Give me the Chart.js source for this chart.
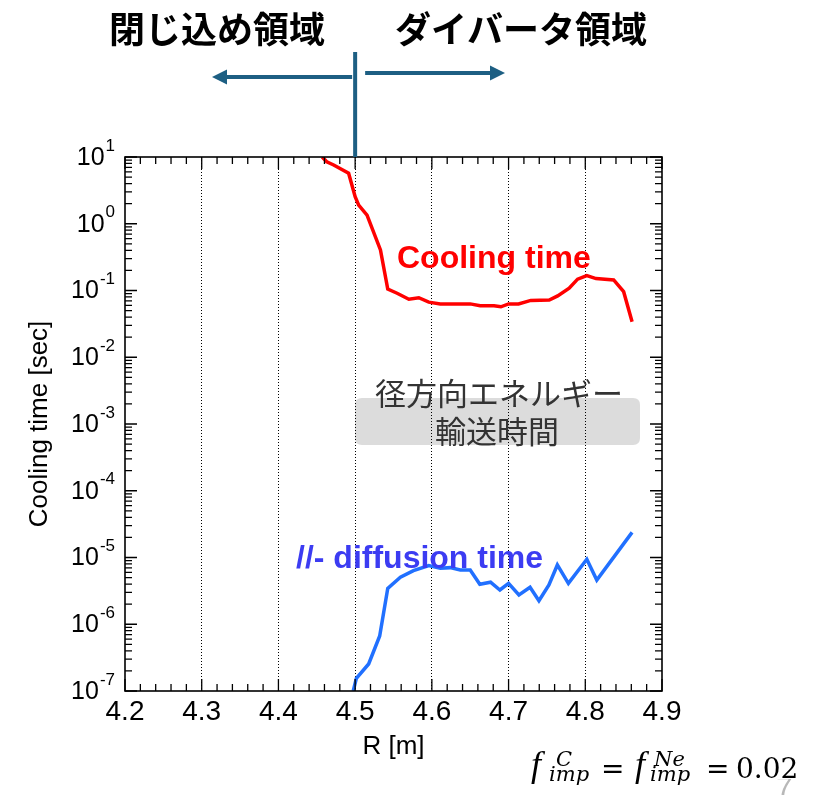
<!DOCTYPE html>
<html><head><meta charset="utf-8">
<script src="https://cdn.jsdelivr.net/npm/chart.js@4.4.1/dist/chart.umd.min.js"></script>
<style>html,body{margin:0;padding:0;background:#fff;}canvas{display:block;}</style>
</head><body>
<canvas id="c" width="820" height="795"></canvas>
<script>
// ---- data ----
const xTickValues = [4.2, 4.3, 4.4, 4.5, 4.6, 4.7, 4.8, 4.9];
const xTickLabels = ['4.2', '4.3', '4.4', '4.5', '4.6', '4.7', '4.8', '4.9'];
const yDecadeExponents = [1, 0, -1, -2, -3, -4, -5, -6, -7];

const rCooling = [4.457, 4.463, 4.472, 4.4915, 4.500, 4.5046, 4.5155, 4.533, 4.5425, 4.5547, 4.570, 4.583, 4.596, 4.611, 4.650, 4.663, 4.681, 4.690, 4.700, 4.713, 4.729, 4.753, 4.764, 4.779, 4.790, 4.802, 4.814, 4.837, 4.850, 4.861];
const coolingTime = [10, 8.5, 7.6, 5.7, 2.54, 1.9, 1.35, 0.405, 0.105, 0.091, 0.074, 0.078, 0.067, 0.063, 0.063, 0.059, 0.059, 0.057, 0.063, 0.063, 0.071, 0.072, 0.083, 0.108, 0.148, 0.167, 0.151, 0.144, 0.096, 0.034];

const rDiffusion = [4.4975, 4.5016, 4.5176, 4.532, 4.5425, 4.559, 4.576, 4.596, 4.611, 4.624, 4.637, 4.650, 4.6625, 4.6765, 4.6887, 4.700, 4.7135, 4.728, 4.7396, 4.7526, 4.7636, 4.778, 4.802, 4.815, 4.861];
const diffusionTime = [1.0e-7, 1.55e-7, 2.54e-7, 6.67e-7, 3.45e-6, 5.05e-6, 6.34e-6, 7.55e-6, 6.89e-6, 7.05e-6, 6.5e-6, 6.5e-6, 3.98e-6, 4.27e-6, 3.26e-6, 4.1e-6, 2.75e-6, 3.58e-6, 2.25e-6, 3.87e-6, 7.73e-6, 4.1e-6, 9.4e-6, 4.6e-6, 2.38e-5];

const boundaryR = 4.5;
const regionTitles = ['閉じ込め領域', 'ダイバータ領域'];
const curveLabels = ['Cooling time', '//- diffusion time'];
const boxLines = ['径方向エネルギー', '輸送時間'];

const SANS = '"Liberation Sans", Arial, sans-serif';
const CJK = '"Noto Sans CJK JP", sans-serif';
const TEAL = '#1d5f83';

function roundRect(ctx, x, y, w, h, r) {
  ctx.beginPath();
  ctx.moveTo(x + r, y);
  ctx.lineTo(x + w - r, y); ctx.quadraticCurveTo(x + w, y, x + w, y + r);
  ctx.lineTo(x + w, y + h - r); ctx.quadraticCurveTo(x + w, y + h, x + w - r, y + h);
  ctx.lineTo(x + r, y + h); ctx.quadraticCurveTo(x, y + h, x, y + h - r);
  ctx.lineTo(x, y + r); ctx.quadraticCurveTo(x, y, x + r, y);
  ctx.closePath();
}

function arrow(ctx, x1, y, x2) {
  const dir = Math.sign(x2 - x1);
  const headL = 15, headH = 7.5;
  ctx.beginPath();
  ctx.moveTo(x1, y); ctx.lineTo(x2 - dir * headL, y);
  ctx.stroke();
  ctx.beginPath();
  ctx.moveTo(x2, y);
  ctx.lineTo(x2 - dir * headL, y - headH);
  ctx.lineTo(x2 - dir * headL, y + headH);
  ctx.closePath();
  ctx.fill();
}

const deco = {
  id: 'deco',
  beforeDraw(chart) {
    const ctx = chart.ctx;
    ctx.save();
    ctx.fillStyle = '#dcdcdc';
    roundRect(ctx, 355, 398, 285, 47, 7);
    ctx.fill();
    ctx.restore();
  },
  afterDraw(chart) {
    const { ctx, chartArea: a, scales: { x, y } } = chart;
    ctx.save();
    // inward ticks
    ctx.strokeStyle = '#000';
    ctx.lineWidth = 1.3;
    ctx.beginPath();
    const xmin = xTickValues[0], xmax = xTickValues[xTickValues.length - 1];
    const nMinor = Math.round((xmax - xmin) / 0.02);
    for (let k = 0; k <= nMinor; k++) {
      const px = x.getPixelForValue(xmin + 0.02 * k);
      const L = (k % 5 === 0) ? 12 : 7;
      ctx.moveTo(px, a.bottom); ctx.lineTo(px, a.bottom - L);
      ctx.moveTo(px, a.top); ctx.lineTo(px, a.top + L);
    }
    const eMin = yDecadeExponents[yDecadeExponents.length - 1], eMax = yDecadeExponents[0];
    for (let e = eMin; e <= eMax; e++) {
      for (let m = 1; m <= 9; m++) {
        if (e === eMax && m > 1) break;
        const py = y.getPixelForValue(m * Math.pow(10, e));
        const L = (m === 1) ? 12 : 7;
        ctx.moveTo(a.left, py); ctx.lineTo(a.left + L, py);
        ctx.moveTo(a.right, py); ctx.lineTo(a.right - L, py);
      }
    }
    ctx.stroke();
    // frame
    ctx.lineWidth = 1.6;
    ctx.strokeRect(a.left, a.top, a.right - a.left, a.bottom - a.top);

    // y tick labels 10^n
    ctx.fillStyle = '#000';
    ctx.textBaseline = 'middle';
    ctx.textAlign = 'right';
    yDecadeExponents.forEach(e => {
      const py = y.getPixelForValue(Math.pow(10, e));
      const es = String(e);
      ctx.font = '17px ' + SANS;
      const ew = ctx.measureText(es).width;
      ctx.fillText(es, 115, py - 11);
      ctx.font = '25px ' + SANS;
      ctx.fillText('10', 115 - ew - 1, py + 1);
    });

    // boundary line and arrows
    const bx = x.getPixelForValue(boundaryR);
    ctx.strokeStyle = TEAL; ctx.fillStyle = TEAL;
    ctx.lineWidth = 4;
    ctx.beginPath(); ctx.moveTo(bx, 52); ctx.lineTo(bx, a.top); ctx.stroke();
    arrow(ctx, bx - 3, 77, 212);
    arrow(ctx, bx + 10, 73, 505);

    // region titles
    ctx.fillStyle = '#000';
    ctx.textAlign = 'center';
    ctx.textBaseline = 'middle';
    ctx.font = 'bold 36px ' + CJK;
    ctx.fillText(regionTitles[0], 217, 29);
    ctx.fillText(regionTitles[1], 521, 29);

    // curve labels
    ctx.textAlign = 'left';
    ctx.textBaseline = 'alphabetic';
    ctx.font = 'bold 32px ' + SANS;
    ctx.fillStyle = '#ff0000';
    ctx.fillText(curveLabels[0], 397, 268);
    ctx.fillStyle = '#3c3cf2';
    ctx.fillText(curveLabels[1], 296, 568);

    // box text
    ctx.fillStyle = '#333';
    ctx.textAlign = 'center';
    ctx.textBaseline = 'middle';
    ctx.font = '31px ' + CJK;
    ctx.fillText(boxLines[0], 499, 393);
    ctx.fillText(boxLines[1], 497, 431);

    // slide number (mostly hidden behind the formula)
    ctx.fillStyle = '#b8b8b8';
    ctx.textAlign = 'left';
    ctx.textBaseline = 'alphabetic';
    ctx.font = '30px ' + SANS;
    ctx.fillText('7', 776, 797);

    // formula (white backing hides top of slide number)
    ctx.fillStyle = '#fff';
    ctx.fillRect(774, 770, 30, 9);
    ctx.fillStyle = '#000';
    const fI = (s) => 'italic ' + s + 'px "Liberation Serif", serif';
    const sI = (s) => 'italic ' + s + 'px "DejaVu Serif", serif';
    const sR = (s) => s + 'px "DejaVu Serif", serif';
    ctx.font = fI(36); ctx.fillText('f', 531, 776);
    ctx.font = sI(21); ctx.fillText('C', 556, 766); ctx.fillText('imp', 549, 781);
    ctx.font = sR(28); ctx.fillText('=', 601, 778);
    ctx.font = fI(36); ctx.fillText('f', 635, 776);
    ctx.font = sI(21); ctx.fillText('Ne', 654, 766); ctx.fillText('imp', 650, 781);
    ctx.font = sR(28); ctx.fillText('=', 706, 778);
    ctx.font = sR(28); ctx.fillText('0.02', 736, 778);
    ctx.restore();
  }
};

new Chart(document.getElementById('c'), {
  type: 'line',
  data: {
    datasets: [
      {
        label: curveLabels[0],
        data: rCooling.map((r, i) => ({ x: r, y: coolingTime[i] })),
        borderColor: '#ff0000', borderWidth: 3.5, pointRadius: 0, tension: 0, fill: false
      },
      {
        label: curveLabels[1],
        data: rDiffusion.map((r, i) => ({ x: r, y: diffusionTime[i] })),
        borderColor: '#2170ff', borderWidth: 3.5, pointRadius: 0, tension: 0, fill: false
      }
    ]
  },
  options: {
    responsive: false,
    animation: false,
    devicePixelRatio: 1,
    layout: { padding: { left: 0, top: 157, right: 158, bottom: 0 } },
    plugins: { legend: { display: false }, tooltip: { enabled: false } },
    scales: {
      x: {
        type: 'linear', min: xTickValues[0], max: xTickValues[xTickValues.length - 1],
        afterBuildTicks: s => { s.ticks = xTickValues.map(v => ({ value: v })); },
        afterFit: s => { s.height = 104; },
        ticks: {
          font: { family: SANS, size: 28 }, color: '#000', padding: 4, maxRotation: 0, autoSkip: false,
          callback: v => { const i = xTickValues.findIndex(t => Math.abs(t - v) < 1e-6); return i >= 0 ? xTickLabels[i] : ''; }
        },
        grid: {
          drawTicks: false, lineWidth: 1,
          color: c => (c.tick && c.tick.value > xTickValues[0] + 1e-6 && c.tick.value < xTickValues[xTickValues.length - 1] - 1e-6) ? '#000' : 'rgba(0,0,0,0)'
        },
        border: { display: false, dash: [1, 2] },
        title: { display: true, text: 'R [m]', font: { family: SANS, size: 26 }, color: '#000', padding: { top: 0, bottom: 33 } }
      },
      y: {
        type: 'logarithmic', min: 1e-7, max: 10,
        afterFit: s => { s.width = 125; },
        ticks: { display: false },
        grid: { display: false },
        border: { display: false },
        title: { display: true, text: 'Cooling time [sec]', font: { family: SANS, size: 26 }, color: '#000', padding: { top: 24, bottom: 0 } }
      }
    }
  },
  plugins: [deco]
});
</script>
</body></html>
